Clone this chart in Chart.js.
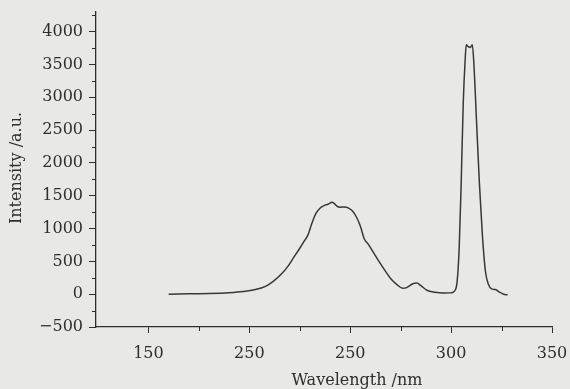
<!DOCTYPE html>
<html lang="en">
<head>
  <meta charset="UTF-8">
  <title>Emission spectrum</title>
  <style>
    html, body { margin: 0; padding: 0; background: #e8e8e6; }
    .chartBox { width: 570px; height: 389px; }
  </style>
</head>
<body>
  <div class="chartBox">
    <canvas id="spectrum" width="570" height="389"></canvas>
  </div>

  <script src="https://cdn.jsdelivr.net/npm/chart.js"></script>
  <script>
    // data
    const wavelength = [160, 170, 180, 190, 197, 203, 208, 212, 216, 219, 222, 225, 227, 229, 231, 233, 235, 237, 239, 241, 242, 243.5, 245, 247, 249, 251, 253, 255, 257, 259, 261, 264, 267, 270, 273, 276, 278, 281, 283, 285, 288, 292, 296, 300, 302, 303, 304, 305, 306, 307, 307.5, 308.2, 309.5, 310.5, 311.3, 312.5, 314, 315.5, 317, 318.5, 320, 322, 324, 326, 328];
    const intensity = [0, 5, 10, 22, 40, 70, 120, 200, 310, 420, 560, 700, 800, 900, 1080, 1230, 1310, 1350, 1370, 1400, 1385, 1340, 1325, 1330, 1315, 1270, 1180, 1040, 840, 760, 660, 510, 370, 240, 150, 90, 100, 160, 170, 130, 60, 30, 18, 20, 60, 200, 700, 1700, 2900, 3600, 3800, 3780, 3760, 3800, 3500, 2700, 1700, 900, 350, 150, 80, 70, 30, 0, -10];

    // x tick labels as printed (major ticks at 150..350)
    const xTickValues = [150, 200, 250, 300, 350];
    const xTickLabels = ['150', '250', '250', '300', '350'];

    const ink = '#2e2e2e';
    const serif = "'DejaVu Serif', serif";

    // minor ticks and axis titles
    const decor = {
      id: 'decor',
      afterDraw(chart) {
        const { ctx, chartArea, scales } = chart;
        ctx.save();
        ctx.strokeStyle = ink;
        ctx.lineWidth = 1;
        ctx.beginPath();
        for (let v = -250; v <= 4250; v += 500) {
          const y = Math.round(scales.y.getPixelForValue(v)) + 0.5;
          ctx.moveTo(chartArea.left - 4, y);
          ctx.lineTo(chartArea.left, y);
        }
        for (let v = 175; v <= 325; v += 50) {
          const x = Math.round(scales.x.getPixelForValue(v)) + 0.5;
          ctx.moveTo(x, chartArea.bottom);
          ctx.lineTo(x, chartArea.bottom + 4);
        }
        ctx.stroke();

        ctx.fillStyle = ink;
        ctx.font = '16px ' + serif;
        ctx.textAlign = 'center';
        ctx.textBaseline = 'middle';
        ctx.fillText('Wavelength /nm', 357, 381);
        ctx.translate(17, 168);
        ctx.rotate(-Math.PI / 2);
        ctx.fillText('Intensity /a.u.', 0, 0);
        ctx.restore();
      }
    };

    new Chart(document.getElementById('spectrum'), {
      type: 'line',
      data: {
        labels: wavelength,
        datasets: [{
          data: wavelength.map((w, i) => ({ x: w, y: intensity[i] })),
          borderColor: '#383838',
          borderWidth: 1.5,
          pointRadius: 0,
          fill: false,
          cubicInterpolationMode: 'monotone'
        }]
      },
      options: {
        responsive: false,
        animation: false,
        layout: { padding: { top: 12, right: 18, left: 0, bottom: 0 } },
        plugins: {
          legend: { display: false },
          tooltip: { enabled: false }
        },
        scales: {
          x: {
            type: 'linear',
            min: 124,
            max: 350,
            afterBuildTicks: s => { s.ticks = xTickValues.map(v => ({ value: v })); },
            afterFit: s => { s.height = 62; s.paddingLeft = 0; s.paddingRight = 0; },
            grid: { drawOnChartArea: false, tickLength: 6, tickColor: ink },
            border: { color: ink, width: 1.3 },
            ticks: {
              color: ink,
              padding: 11,
              maxRotation: 0,
              font: { family: serif, size: 16 },
              callback: v => xTickLabels[xTickValues.indexOf(v)]
            }
          },
          y: {
            min: -500,
            max: 4300,
            afterBuildTicks: s => {
              const t = [];
              for (let v = -500; v <= 4000; v += 500) t.push({ value: v });
              s.ticks = t;
            },
            afterFit: s => { s.width = 96; s.paddingTop = 0; s.paddingBottom = 0; },
            grid: { drawOnChartArea: false, tickLength: 7, tickColor: ink },
            border: { color: ink, width: 1.3 },
            ticks: {
              color: ink,
              padding: 6,
              font: { family: serif, size: 16 },
              callback: v => (v < 0 ? '\u2212' + Math.abs(v) : String(v))
            }
          }
        }
      },
      plugins: [decor]
    });
  </script>
</body>
</html>
